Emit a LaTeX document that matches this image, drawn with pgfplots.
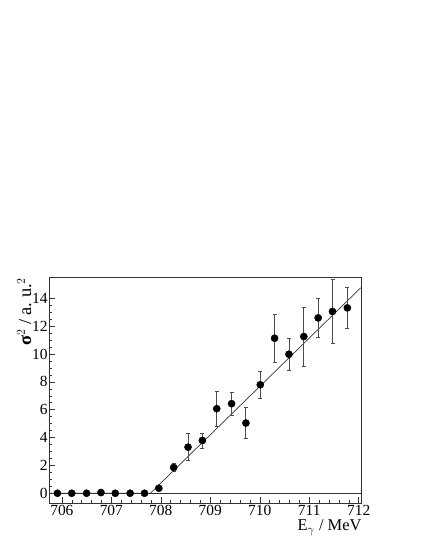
\documentclass[border=0pt]{standalone}
\usepackage{fontspec}
\setmainfont{Liberation Serif}
\usepackage{pgfplots}
\usepackage{pgfplotstable}
\pgfplotsset{compat=1.18}

% measured points: E_gamma, sigma^2, error
\pgfplotstableread{
x       y      e
705.91  0.00   0.00
706.20  0.00   0.00
706.50  0.00   0.00
706.79  0.05   0.00
707.08  0.00   0.00
707.38  0.00   0.00
707.67  0.00   0.00
707.96  0.36   0.08
708.26  1.85   0.30
708.55  3.31   0.98
708.84  3.79   0.55
709.13  6.07   1.27
709.43  6.43   0.80
709.72  5.04   1.10
710.01  7.79   0.98
710.30  11.13  1.75
710.59  9.98   1.14
710.89  11.25  2.13
711.18  12.59  1.38
711.47  13.05  2.28
711.77  13.31  1.48
}\datatable

\begin{document}
\begin{tikzpicture}
\useasboundingbox (0,0) rectangle (422bp,547bp);
\begin{axis}[
    at={(49bp,44bp)}, anchor=south west,
    scale only axis,
    width=312.7bp, height=225.5bp,
    xmin=705.74, xmax=712.06,
    ymin=-0.70, ymax=15.49,
    xtick={706,707,...,712},
    ytick={0,2,...,14},
    minor x tick num=4,
    minor y tick num=3,
    tick align=inside,
    xtick pos=bottom, ytick pos=left,
    major tick length=6bp, minor tick length=3bp,
    axis line style={black!80, line width=0.6pt},
    tick style={black!80, line width=0.5pt},
    /pgf/number format/assume math mode=true,
    /pgf/number format/1000 sep={},
    tick label style={font=\fontsize{15.5}{18}\selectfont, text=black},
    xticklabel style={yshift=1bp},
    yticklabel style={xshift=2bp},
    label style={inner sep=0pt},
    xlabel={E$_\gamma$ / MeV},
    xlabel style={font=\fontsize{16.5}{19}\selectfont,
        at={(axis description cs:1,-0.075)}, anchor=north east},
    ylabel={\textbf{σ}$^2$ / a.\ u.$^2$},
    ylabel style={font=\fontsize{18.5}{21}\selectfont,
        at={(axis description cs:-0.056,1)}, anchor=south east},
]
% zero line and threshold fit
\addplot[black!80, line width=0.6pt] coordinates {(705.74,0) (712.06,0)};
\addplot[black!80, line width=0.7pt] coordinates {(705.74,0) (707.79,0) (712.04,14.75)};

\addplot[
    only marks, mark=*, mark size=3.6bp, mark options={fill=black, draw=black},
    error bars/.cd, y dir=both, y explicit,
    error bar style={black!70, line width=0.9pt},
    error mark options={rotate=90, mark size=2bp, black!70, line width=0.6pt},
] table[x=x, y=y, y error=e] {\datatable};
\end{axis}
\end{tikzpicture}
\end{document}
